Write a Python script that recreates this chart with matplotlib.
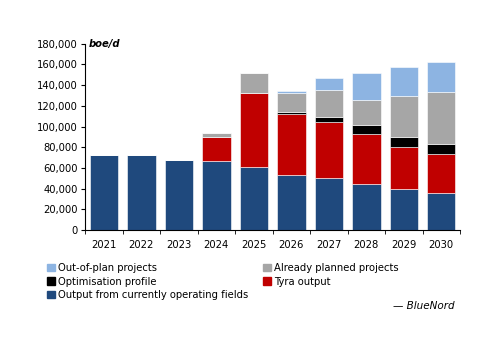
import matplotlib
matplotlib.use("Agg")
import matplotlib.pyplot as plt
from matplotlib.patches import Patch
import numpy as np

years = ["2021", "2022", "2023", "2024", "2025", "2026", "2027", "2028", "2029", "2030"]
operating = [73000, 72500, 67500, 67000, 61000, 53000, 50000, 44700, 39600, 35700]
tyra      = [0, 0, 0, 22500, 71500, 59600, 54900, 48200, 40800, 37700]
optim     = [0, 0, 0, 0, 0, 1600, 4800, 9000, 9100, 9600]
planned   = [0, 0, 0, 4100, 19000, 18700, 26100, 23900, 40200, 50800]
outplan   = [0, 0, 0, 0, 0, 1600, 10900, 26000, 27600, 28300]

series = [
    ("Output from currently operating fields", operating, "#1F497D"),
    ("Tyra output", tyra, "#C00000"),
    ("Optimisation profile", optim, "#000000"),
    ("Already planned projects", planned, "#A6A6A6"),
    ("Out-of-plan projects", outplan, "#8DB4E2"),
]

fig = plt.figure(figsize=(5.0, 3.53), dpi=100)
ax = fig.add_axes([0.17, 0.348, 0.75, 0.528])

x = np.arange(len(years))
bottom = np.zeros(len(years))
for name, vals, col in series:
    v = np.array(vals, dtype=float)
    ax.bar(x, v, bottom=bottom, width=0.76, color=col, edgecolor="white", linewidth=0.4)
    bottom += v

ax.set_ylim(0, 180000)
ax.set_xlim(-0.5, len(years) - 0.5)
ax.set_yticks(np.arange(0, 180001, 20000))
ax.set_yticklabels([f"{int(t):,}" for t in np.arange(0, 180001, 20000)], fontsize=7.2)
ax.set_xticks(x)
ax.set_xticklabels(years, fontsize=7.2)
ax.tick_params(axis="x", length=0, pad=7)
ax.set_xticks(np.arange(-0.5, len(years), 1), minor=True)
ax.tick_params(axis="x", which="minor", length=3, direction="out")
ax.tick_params(axis="y", length=3, direction="out", pad=2)
for s in ["top", "right"]:
    ax.spines[s].set_visible(False)
ax.spines["left"].set_linewidth(0.8)
ax.spines["bottom"].set_linewidth(0.8)

ax.text(0.01, 1.0, "boe/d", transform=ax.transAxes, fontsize=7.2, fontstyle="italic",
        fontweight="bold", va="center", ha="left")

handles = [Patch(color=c) for _, _, c in series]
labels = [n for n, _, _ in series]
order = [4, 2, 0, 3, 1]
leg = fig.legend([handles[i] for i in order], [labels[i] for i in order],
                 loc="upper left", bbox_to_anchor=(0.085, 0.266), ncol=2,
                 frameon=False, fontsize=7.2, handlelength=0.8, handleheight=0.8,
                 handletextpad=0.3, columnspacing=1.5, labelspacing=0.35,
                 borderaxespad=0)

fig.text(0.91, 0.133, "— BlueNord", fontsize=7.5, fontstyle="italic", ha="right", va="center")

fig.savefig("out.png", dpi=100)
